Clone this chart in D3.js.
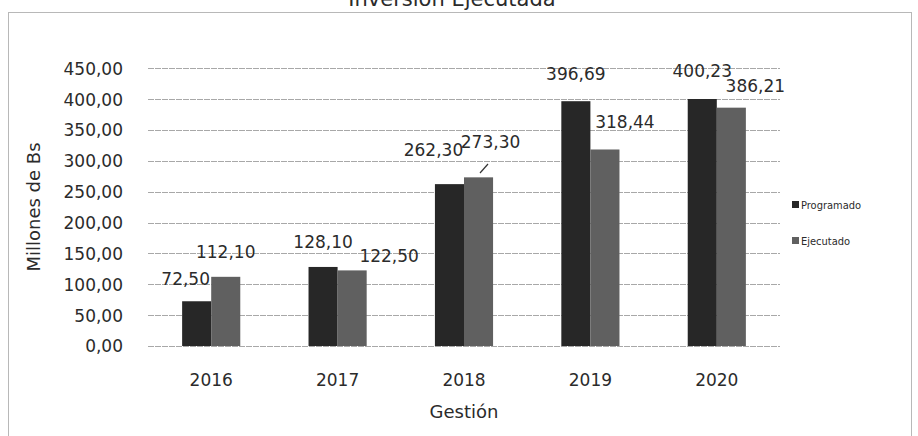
<!DOCTYPE html>
<html><head><meta charset="utf-8">
<script src="https://cdn.jsdelivr.net/npm/d3@7"></script>
<style>body{margin:0;background:#fff}svg{display:block}text{font-family:"DejaVu Sans",sans-serif;fill:#2b2b2b}</style>
</head><body><svg id="c" width="918" height="436"></svg>
<script>
const categories = ["2016","2017","2018","2019","2020"];
const seriesNames = ["Programado","Ejecutado"];
const programado = [72.50,128.10,262.30,396.69,400.23];
const ejecutado = [112.10,122.50,273.30,318.44,386.21];
const yTicks = [0,50,100,150,200,250,300,350,400,450];
const title = "Inversión Ejecutada";
const yTitle = "Millones de Bs";
const xTitle = "Gestión";

// label placement tweaks (layout, not data)
const labelOffsets = [
  [[-11,-16],[0,-19],[-16,-28],[0,-21],[0,-22]],
  [[0,-19],[37,-8],[12,-29],[20,-21],[24,-16]]
];
const colors = ["#272727","#606060"];
const fmt = v => d3.format(".2f")(v).replace(".",",");

const svg = d3.select("#c");
const x0 = d3.scaleBand().domain(categories).range([148,780]).paddingInner(0.54).paddingOuter(0.27);
const x1 = d3.scaleBand().domain(seriesNames).range([0, x0.bandwidth()]);
const y = d3.scaleLinear().domain([0,450]).range([346,68.3]);

// border
svg.append("rect").attr("x",8.5).attr("y",12.5).attr("width",903).attr("height",440)
  .attr("fill","none").attr("stroke","#b8b8b8").attr("stroke-width",1);

// title (cut off at top, as in the scan)
svg.append("text").attr("x",452).attr("y",6).attr("text-anchor","middle")
  .style("font-size","21px").text(title);

// gridlines
svg.append("g").selectAll("line").data(yTicks).join("line")
  .attr("x1",148).attr("x2",780).attr("y1",d=>Math.round(y(d))+0.5).attr("y2",d=>Math.round(y(d))+0.5)
  .attr("stroke","#a8a8a8").attr("stroke-width",1).attr("stroke-dasharray","6,1");

// y axis
const yAxis = d3.axisLeft(y).tickValues(yTicks).tickFormat(fmt).tickSize(0).tickPadding(0);
const gy = svg.append("g").attr("transform","translate(123,0)").call(yAxis);
gy.select(".domain").remove();
gy.selectAll("text").style("font-size","17px").attr("dy","0.35em").attr("fill","#2b2b2b");

// x axis
const xAxis = d3.axisBottom(x0).tickSize(0).tickPadding(0);
const gx = svg.append("g").attr("transform","translate(0,372)").call(xAxis);
gx.select(".domain").remove();
gx.selectAll("text").style("font-size","17px").attr("dy","0.8em").attr("fill","#2b2b2b");

// bars
const series = [programado, ejecutado];
series.forEach((vals, si) => {
  const g = svg.append("g");
  g.selectAll("rect").data(vals).join("rect")
    .attr("x",(d,i)=>x0(categories[i])+x1(seriesNames[si]))
    .attr("y",d=>y(d)).attr("width",x1.bandwidth()).attr("height",d=>y(0)-y(d))
    .attr("fill",colors[si]);
  g.selectAll("text").data(vals).join("text")
    .attr("x",(d,i)=>x0(categories[i])+x1(seriesNames[si])+x1.bandwidth()/2+labelOffsets[si][i][0])
    .attr("y",(d,i)=>y(d)+labelOffsets[si][i][1])
    .attr("text-anchor","middle").style("font-size","17px").text(d=>fmt(d));
});
// leader line for 273,30
svg.append("line").attr("x1",480).attr("y1",173).attr("x2",488).attr("y2",164)
  .attr("stroke","#333").attr("stroke-width",1.2);

// axis titles
svg.append("text").attr("transform","translate(40,207) rotate(-90)").attr("text-anchor","middle")
  .style("font-size","18px").text(yTitle);
svg.append("text").attr("x",464).attr("y",418).attr("text-anchor","middle")
  .style("font-size","18px").text(xTitle);

// legend
const lg = svg.append("g");
seriesNames.forEach((n,i)=>{
  const yy = 205 + i*36;
  lg.append("rect").attr("x",792).attr("y",yy-4).attr("width",7).attr("height",7).attr("fill",colors[i]);
  lg.append("text").attr("x",801).attr("y",yy+3.5).style("font-size","11px")
    .style("font-family","'DejaVu Sans Condensed','DejaVu Sans',sans-serif").text(n);
});
</script></body></html>
